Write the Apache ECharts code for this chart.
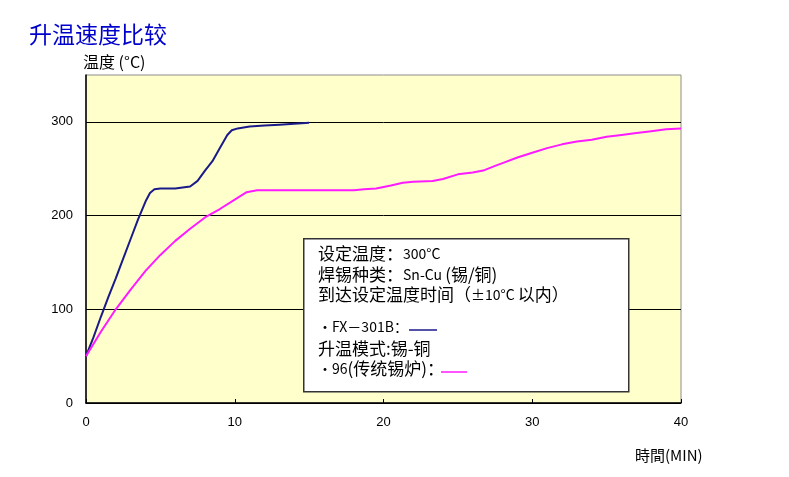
<!DOCTYPE html>
<html><head><meta charset="utf-8">
<script src="https://cdn.jsdelivr.net/npm/echarts@6/dist/echarts.min.js"></script>
<style>html,body{margin:0;padding:0;background:#fff}#c{width:789px;height:477px}</style>
</head><body><div id="c"></div>
<script>
// ---- data ----
const xTicks = [0, 10, 20, 30, 40];
const yTicks = [0, 100, 200, 300];
const fxName = 'FX-301B';
const fxTime = [0, 0.5, 1, 1.5, 2, 2.5, 3, 3.5, 4, 4.3, 4.6, 5, 6, 7, 7.5, 8, 8.5, 9, 9.5, 9.8, 10.2, 11, 12, 13, 14, 15];
const fxTemp = [50, 70, 92, 113, 133, 154, 175, 196, 215, 224, 228, 229, 229, 231, 237, 248, 258, 272, 286, 291, 293, 295, 296, 297, 298, 299];
const stdName = '96(传统锡炉)';
const stdTime = [0, 0.5, 1, 1.5, 2, 3, 4, 5, 6, 7, 8, 9, 10, 10.8, 11.5, 12, 14, 16, 18, 18.7, 19.5, 20.5, 21.3, 22, 23.3, 24, 25, 26, 26.7, 27.5, 28, 29, 30, 31, 32, 33, 34, 35, 36, 37, 38, 39, 40];
const stdTemp = [50, 63, 76, 88, 100, 121, 141, 158, 173, 186, 198, 207, 217, 225, 227, 227, 227, 227, 227, 228, 229, 232, 235, 236, 237, 239, 244, 246, 248, 253, 256, 262, 267, 272, 276, 279, 281, 284, 286, 288, 290, 292, 293];

const CJK = '"Noto Sans CJK SC", "Noto Sans", sans-serif';
const fxColor = '#1a1a8a';
const stdColor = '#ff1aff';

const zip = (a, b) => a.map((v, i) => [v, b[i]]);

const legendText = (txt, y) => ({
  type: 'text', left: 318, top: y, z: 101,
  style: {
    text: txt, fill: '#000', font: '17px ' + CJK,
    rich: {
      s: { fontSize: 14, fontFamily: CJK, fill: '#000' },
      b: { fontSize: 17, fontFamily: CJK, fill: '#000' }
    }
  }
});

const chart = echarts.init(document.getElementById('c'), null, { renderer: 'canvas' });
chart.setOption({
  animation: false,
  backgroundColor: '#fff',
  title: {
    text: '升温速度比较', left: 24, top: 18,
    textStyle: { color: '#0000cc', fontSize: 23, fontWeight: 'normal', fontFamily: CJK }
  },
  grid: {
    left: 86, right: 108, top: 75, bottom: 74,
    show: true, backgroundColor: '#ffffcc', borderColor: '#8c8c8c', borderWidth: 1
  },
  xAxis: {
    type: 'value', min: 0, max: 40, interval: 10,
    name: '時間(MIN)', nameLocation: 'end', nameGap: -46,
    nameTextStyle: { color: '#000', fontSize: 15, fontFamily: CJK, align: 'left', verticalAlign: 'top', padding: [45, 0, 0, 0] },
    axisLine: { show: true, lineStyle: { color: '#000', width: 1.5 } },
    axisTick: { show: true, inside: true, length: 4, lineStyle: { color: '#000' } },
    axisLabel: { color: '#000', fontSize: 13, margin: 13, fontFamily: 'Arial, "Liberation Sans", sans-serif' },
    splitLine: { show: false }
  },
  yAxis: {
    type: 'value', min: 0, max: 350, interval: 100,
    name: '温度 (°C)', nameLocation: 'end', nameGap: 5,
    nameTextStyle: { color: '#000', fontSize: 16, fontFamily: CJK, align: 'left', padding: [0, 0, 0, -3] },
    axisLine: { show: true, lineStyle: { color: '#000', width: 1.5 } },
    axisTick: { show: false },
    axisLabel: { color: '#000', fontSize: 13, margin: 13, showMaxLabel: false, fontFamily: 'Arial, "Liberation Sans", sans-serif',
      formatter: v => (yTicks.indexOf(v) >= 0 ? String(v) : '') },
    splitLine: { show: true, showMaxLine: false, lineStyle: { color: '#000', width: 1 } }
  },
  series: [
    { name: fxName, type: 'line', data: zip(fxTime, fxTemp), showSymbol: false, symbol: 'none',
      lineStyle: { color: fxColor, width: 2 }, z: 3 },
    { name: stdName, type: 'line', data: zip(stdTime, stdTemp), showSymbol: false, symbol: 'none',
      lineStyle: { color: stdColor, width: 2 }, z: 3 }
  ],
  graphic: [
    { type: 'rect', left: 303, top: 238, z: 100,
      shape: { width: 325, height: 153 },
      style: { fill: '#fff', stroke: '#333', lineWidth: 1.5 } },
    legendText('{b|设定温度：}{s|300°C}', 245),
    legendText('{b|焊锡种类：}{s|Sn-Cu }{b|(锡/铜)}', 266),
    legendText('{b|到达设定温度时间（}{s|±10°C }{b|以内）}', 286),
    legendText('{s|・FX－301B：}', 320),
    legendText('{b|升温模式:锡-铜}', 340),
    legendText('{s|・96}{b|(传统锡炉)：}', 360),
    { type: 'line', z: 101, shape: { x1: 409, y1: 330, x2: 437, y2: 330 }, style: { stroke: fxColor, lineWidth: 1.5 } },
    { type: 'line', z: 101, shape: { x1: 441, y1: 372, x2: 467, y2: 372 }, style: { stroke: stdColor, lineWidth: 1.5 } }
  ]
});
</script></body></html>
